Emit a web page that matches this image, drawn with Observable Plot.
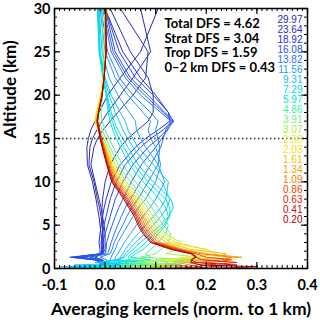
<!DOCTYPE html>
<html><head><meta charset="utf-8">
<script src="https://cdn.jsdelivr.net/npm/d3@7"></script>
<script src="https://cdn.jsdelivr.net/npm/@observablehq/plot@0.6"></script>
<style>body{margin:0;background:#fff}svg{display:block}</style>
</head><body><div id="chart"></div>
<script>
// altitude grid (km)
const altitudes = [0, 0.2, 0.4, 0.7, 1.0, 1.3, 1.7, 2.2, 3, 4, 5, 6, 7, 8, 10, 12, 14, 15, 16, 17, 18, 20, 22, 25, 30];
// labelled kernel levels (km), top to bottom in the legend
const levels = ["29.97","23.64","18.92","16.08","13.82","11.56","9.31","7.29","5.97","4.86","3.91","3.07","2.50","2.03","1.61","1.34","1.09","0.86","0.63","0.41","0.20"];
const legendColors = ["#2a2aa6","#2b2bc0","#2430dc","#2450f0","#2470ff","#1f98ff","#12c0ff","#00d8f2","#00e6d6","#3ef0a8","#74f07a","#a4f04c","#e4f01e","#f8de00","#f8c000","#f8a000","#f87600","#f04a00","#e02400","#c80a0a","#a80000"];

// averaging kernel values at each altitude
const k29_97 = [-0.02,-0.01,-0.004,-0.003,-0.005,-0.02,-0.005,-0.005,-0.006,-0.008,-0.01,-0.012,-0.015,-0.018,-0.025,-0.035,-0.036,-0.033,-0.028,-0.02,-0.012,0.005,0.03,0.07,0.105];
const k26_5  = [-0.025,-0.015,-0.008,-0.004,-0.008,-0.03,-0.005,-0.003,-0.003,-0.004,-0.006,-0.008,-0.011,-0.015,-0.022,-0.032,-0.03,-0.025,-0.016,-0.006,0.005,0.03,0.055,0.09,0.07];
const k23_64 = [-0.03,-0.02,-0.01,-0.005,-0.01,-0.045,-0.005,0.0,0.0,0.0,-0.002,-0.005,-0.008,-0.012,-0.02,-0.028,-0.022,-0.015,-0.004,0.01,0.025,0.055,0.08,0.085,0.03];
const k21_1  = [-0.025,-0.015,-0.01,-0.005,-0.015,-0.05,-0.008,-0.005,-0.006,-0.005,-0.005,-0.006,-0.006,-0.005,0.0,0.01,0.03,0.045,0.065,0.085,0.095,0.095,0.085,0.05,0.01];
const k18_92 = [-0.02,-0.01,-0.01,-0.005,-0.02,-0.06,-0.01,-0.01,-0.012,-0.01,-0.008,-0.005,-0.002,0.002,0.012,0.03,0.06,0.08,0.105,0.128,0.125,0.1,0.07,0.035,0.0];
const k17_4  = [-0.025,-0.015,-0.01,-0.008,-0.02,-0.065,-0.008,-0.007,-0.008,-0.005,-0.002,0.002,0.006,0.01,0.022,0.04,0.07,0.09,0.115,0.134,0.125,0.095,0.06,0.028,0.0];
const k16_08 = [-0.03,-0.02,-0.01,-0.01,-0.02,-0.07,-0.005,-0.004,-0.005,0.0,0.005,0.01,0.015,0.02,0.035,0.055,0.085,0.105,0.122,0.136,0.118,0.085,0.05,0.02,0.0];
const k15_0  = [-0.04,-0.03,-0.005,-0.005,-0.012,-0.05,0.0,0.002,0.003,0.008,0.014,0.02,0.027,0.035,0.052,0.072,0.1,0.112,0.124,0.132,0.115,0.078,0.045,0.016,-0.003];
const k13_82 = [-0.05,-0.04,0.0,0.0,-0.005,-0.03,0.005,0.008,0.012,0.018,0.025,0.032,0.04,0.05,0.07,0.09,0.11,0.115,0.12,0.13,0.11,0.07,0.04,0.012,-0.005];
const k12_7  = [-0.065,-0.03,0.0,0.002,0.003,-0.01,0.01,0.014,0.018,0.026,0.035,0.043,0.052,0.065,0.085,0.105,0.108,0.104,0.1,0.105,0.09,0.055,0.028,0.005,-0.008];
const k11_56 = [-0.08,-0.02,0.0,0.005,0.01,0.012,0.015,0.02,0.025,0.035,0.045,0.055,0.065,0.08,0.1,0.11,0.1,0.09,0.085,0.09,0.075,0.045,0.02,0.0,-0.01];
const k10_4  = [-0.07,-0.06,0.03,-0.01,0.02,0.02,0.025,0.03,0.038,0.05,0.062,0.075,0.088,0.1,0.118,0.105,0.08,0.07,0.062,0.06,0.048,0.025,0.008,-0.006,-0.012];
const k9_31  = [0.02,-0.09,0.06,-0.02,0.03,0.03,0.035,0.04,0.05,0.065,0.08,0.095,0.11,0.12,0.125,0.095,0.065,0.055,0.045,0.04,0.03,0.012,0.0,-0.01,-0.015];
const k8_3   = [-0.02,0.02,0.0,0.03,0.025,0.035,0.04,0.048,0.06,0.078,0.095,0.11,0.122,0.128,0.112,0.08,0.055,0.045,0.035,0.028,0.02,0.008,-0.002,-0.011,-0.015];
const k7_29  = [-0.05,0.12,-0.06,0.08,0.02,0.04,0.045,0.055,0.07,0.09,0.11,0.125,0.135,0.13,0.095,0.065,0.045,0.035,0.025,0.018,0.012,0.004,-0.004,-0.012,-0.015];
const k6_6   = [0.0,0.04,0.05,0.04,0.05,0.045,0.052,0.065,0.08,0.098,0.116,0.128,0.128,0.12,0.085,0.056,0.037,0.028,0.02,0.014,0.009,0.003,-0.004,-0.011,-0.013];
const k5_97  = [0.05,-0.04,0.15,0.0,0.09,0.05,0.06,0.075,0.09,0.105,0.12,0.125,0.12,0.108,0.075,0.048,0.03,0.022,0.015,0.01,0.006,0.002,-0.004,-0.01,-0.012];
const k4_86  = [0.08,0.02,0.05,0.18,0.04,0.09,0.08,0.09,0.105,0.12,0.125,0.115,0.105,0.092,0.06,0.034,0.016,0.008,0.0,-0.006,-0.008,-0.005,-0.003,-0.004,-0.006];
const k3_91  = [0.06,0.1,0.03,0.08,0.17,0.07,0.1,0.11,0.125,0.13,0.115,0.103,0.092,0.08,0.05,0.026,0.01,0.002,-0.006,-0.012,-0.012,-0.006,-0.002,0.0,-0.002];
const k3_07  = [0.07,0.05,0.12,0.06,0.1,0.19,0.12,0.14,0.15,0.12,0.105,0.095,0.084,0.072,0.042,0.02,0.005,-0.003,-0.011,-0.017,-0.015,-0.008,-0.003,0.001,0.0];
const k2_50  = [0.07,0.08,0.09,0.10,0.12,0.16,0.19,0.2,0.14,0.112,0.098,0.088,0.077,0.066,0.036,0.016,0.002,-0.006,-0.014,-0.02,-0.017,-0.009,-0.003,0.002,0.003];
const k2_03  = [0.08,0.10,0.11,0.12,0.15,0.18,0.22,0.2,0.13,0.105,0.092,0.083,0.072,0.062,0.032,0.014,0.001,-0.007,-0.014,-0.02,-0.017,-0.008,-0.003,0.002,0.003];
const k1_61  = [0.09,0.11,0.12,0.14,0.17,0.22,0.24,0.17,0.12,0.1,0.087,0.078,0.068,0.058,0.028,0.012,0.0,-0.007,-0.013,-0.018,-0.015,-0.007,-0.002,0.002,0.003];
const k1_34  = [0.10,0.12,0.14,0.16,0.19,0.27,0.2,0.155,0.11,0.095,0.083,0.075,0.064,0.054,0.025,0.01,-0.001,-0.007,-0.012,-0.017,-0.014,-0.006,-0.002,0.002,0.003];
const k1_09  = [0.11,0.14,0.16,0.18,0.23,0.25,0.19,0.15,0.105,0.09,0.079,0.071,0.06,0.05,0.022,0.008,-0.002,-0.007,-0.011,-0.016,-0.013,-0.006,-0.002,0.002,0.002];
const k0_86  = [0.13,0.16,0.18,0.21,0.25,0.2,0.18,0.145,0.1,0.086,0.075,0.067,0.056,0.046,0.019,0.006,-0.003,-0.008,-0.011,-0.015,-0.013,-0.006,-0.002,0.002,0.002];
const k0_63  = [0.14,0.18,0.2,0.26,0.19,0.18,0.175,0.14,0.097,0.082,0.071,0.064,0.053,0.043,0.017,0.005,-0.004,-0.008,-0.011,-0.015,-0.013,-0.006,-0.002,0.002,0.001];
const k0_41  = [0.16,0.21,0.26,0.18,0.17,0.18,0.17,0.135,0.093,0.078,0.068,0.061,0.05,0.04,0.015,0.004,-0.005,-0.009,-0.012,-0.015,-0.013,-0.006,-0.002,0.002,0.001];
const k0_20  = [0.2,0.30,0.19,0.17,0.17,0.18,0.17,0.13,0.09,0.075,0.065,0.058,0.047,0.037,0.013,0.003,-0.006,-0.01,-0.013,-0.016,-0.013,-0.006,-0.002,0.002,0.001];

// all plotted kernels, drawn from the highest level down
const seriesNames  = ["29.97","26.5","23.64","21.1","18.92","17.4","16.08","15.0","13.82","12.7","11.56","10.4","9.31","8.3","7.29","6.6","5.97","4.86","3.91","3.07","2.50","2.03","1.61","1.34","1.09","0.86","0.63","0.41","0.20"];
const seriesValues = [k29_97,k26_5,k23_64,k21_1,k18_92,k17_4,k16_08,k15_0,k13_82,k12_7,k11_56,k10_4,k9_31,k8_3,k7_29,k6_6,k5_97,k4_86,k3_91,k3_07,k2_50,k2_03,k1_61,k1_34,k1_09,k0_86,k0_63,k0_41,k0_20];
const seriesColors = ["#2a2aa6","#2a2ab4","#2b2bc0","#2a2ece","#2430dc","#2440e6","#2450f0","#2460f8","#2470ff","#2084ff","#1f98ff","#18acff","#12c0ff","#08ccfa","#00d8f2","#00e0e4","#00e6d6","#3ef0a8","#74f07a","#a4f04c","#e4f01e","#f8de00","#f8c000","#f8a000","#f87600","#f04a00","#e02400","#c80a0a","#a80000"];

const dfsNames = ["Total DFS", "Strat DFS", "Trop DFS", "0\u20132 km DFS"];
const dfsValues = ["4.62", "3.04", "1.59", "0.43"];
const xTicks = [-0.1, 0.0, 0.1, 0.2, 0.3, 0.4];
const yTicks = [0, 5, 10, 15, 20, 25, 30];
const tropopause = [15];

const rows = [];
seriesNames.forEach((name, i) => seriesValues[i].forEach((v, j) => rows.push({level: name, alt: altitudes[j], v})));

const W = 320, H = 323, mt = 8, mb = 55, ml = 54, mr = 13;
const iw = W - ml - mr, ih = H - mt - mb;
const xMinor = d3.ticks(-0.1, 0.4, 50);
const yMinor = d3.ticks(0, 30, 30);

const legendMarks = levels.map((lev, i) => Plot.text([lev], {
  frameAnchor: "top-right", dx: -5, dy: 7 + 10 * i, textAnchor: "end",
  fill: legendColors[i], fontFamily: "Liberation Sans, Arial, sans-serif", fontSize: 10
}));

const dfsText = dfsNames.map((n, i) => `${n} = ${dfsValues[i]}`).join("\n");

const chart = Plot.plot({
  width: W, height: H, marginTop: mt, marginBottom: mb, marginLeft: ml, marginRight: mr,
  style: {fontFamily: "Lato, sans-serif", background: "#fff", color: "#000"},
  x: {domain: [-0.1, 0.4], axis: null},
  y: {domain: [0, 30], axis: null},
  color: {type: "ordinal", domain: seriesNames, range: seriesColors},
  marks: [
    Plot.line(rows, {x: "v", y: "alt", z: "level", stroke: "level", strokeWidth: 1}),
    Plot.ruleY(tropopause, {stroke: "#333", strokeDasharray: "1.5,2.5", strokeWidth: 1.3}),
    Plot.tickX(xTicks, {x: d => d, insetTop: ih - 6, stroke: "#000", strokeWidth: 1.2}),
    Plot.tickX(xTicks, {x: d => d, insetBottom: ih - 6, stroke: "#000", strokeWidth: 1.2}),
    Plot.tickX(xMinor, {x: d => d, insetTop: ih - 3, stroke: "#000"}),
    Plot.tickX(xMinor, {x: d => d, insetBottom: ih - 3, stroke: "#000"}),
    Plot.tickY(yTicks, {y: d => d, insetRight: iw - 6, stroke: "#000", strokeWidth: 1.2}),
    Plot.tickY(yTicks, {y: d => d, insetLeft: iw - 6, stroke: "#000", strokeWidth: 1.2}),
    Plot.tickY(yMinor, {y: d => d, insetRight: iw - 3, stroke: "#000"}),
    Plot.tickY(yMinor, {y: d => d, insetLeft: iw - 3, stroke: "#000"}),
    Plot.frame({stroke: "#000", strokeWidth: 1.5}),
    Plot.axisX(xTicks, {tickSize: 0, tickPadding: 11.5, fontSize: 14.5, fontWeight: "bold", tickFormat: d => d.toFixed(1), label: null}),
    Plot.axisY(yTicks, {tickSize: 0, tickPadding: 4, dy: 0.5, fontSize: 14.5, fontWeight: "bold", label: null}),
    Plot.text(["Altitude (km)"], {frameAnchor: "left", rotate: -90, dx: -44, fontSize: 17, fontWeight: "bold"}),
    Plot.text(["Averaging kernels (norm. to 1 km)"], {frameAnchor: "bottom", dy: 46, fontSize: 17.5, fontWeight: "bold"}),
    Plot.text([dfsText], {frameAnchor: "top-left", dx: 110, dy: 9.5, textAnchor: "start", lineAnchor: "top", lineHeight: 1.12, fontSize: 13, fontWeight: "bold"}),
    ...legendMarks
  ]
});
document.getElementById("chart").append(chart);
</script>
</body></html>
